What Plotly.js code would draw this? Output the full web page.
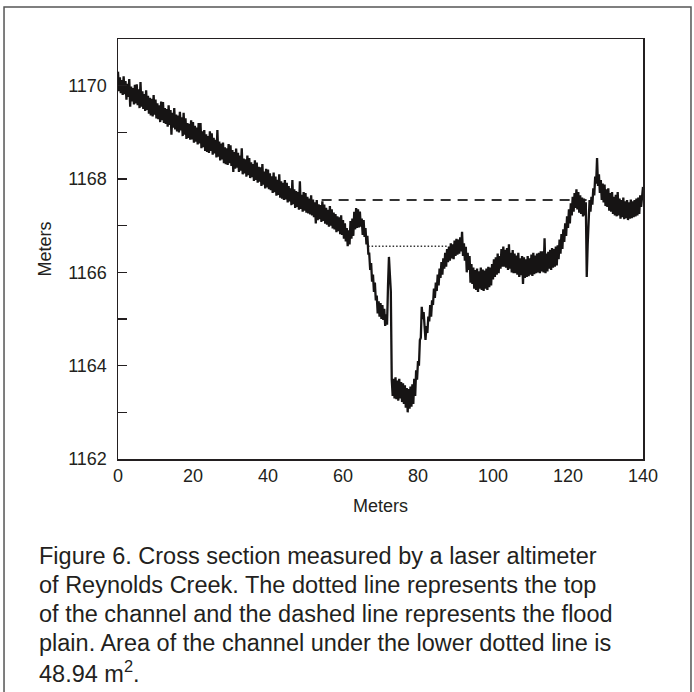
<!DOCTYPE html>
<html>
<head>
<meta charset="utf-8">
<script src="https://cdn.plot.ly/plotly-3.0.1.min.js"></script>
<style>html,body{margin:0;padding:0;background:#fff;}#chart{width:694px;height:692px;}</style>
</head>
<body>
<div id="chart"></div>
<script>
// Elevation read from the laser altimeter profile (m), one reading every 0.25 m from 0 to 140 m
const elevation = [
  1170.30,1169.88,1170.18,1169.84, 1170.12,1169.80,1170.20,1169.82, 1170.10,1169.70,1170.04,1169.76, 1170.14,1169.55,1169.98,1169.66,
  1169.95,1169.60,1170.02,1169.62, 1170.03,1169.58,1169.92,1169.52, 1170.08,1169.55,1169.88,1169.50, 1169.82,1169.46,1169.90,1169.48,
  1169.78,1169.40,1169.74,1169.36, 1169.72,1169.34,1169.80,1169.38, 1169.70,1169.30,1169.62,1169.28, 1169.58,1169.22,1169.66,1169.26,
  1169.65,1169.20,1169.52,1169.18, 1169.50,1169.12,1169.58,1169.16, 1169.48,1168.95,1169.42,1169.10, 1169.52,1169.06,1169.38,1169.02,
  1169.36,1169.00,1169.44,1169.04, 1169.32,1168.92,1169.42,1168.95, 1169.30,1168.86,1169.20,1168.88, 1169.18,1168.84,1169.26,1168.85,
  1169.22,1168.78,1169.14,1168.80, 1169.10,1168.74,1169.20,1168.76, 1169.20,1168.66,1169.02,1168.68, 1169.05,1168.60,1168.96,1168.58,
  1168.92,1168.56,1169.02,1168.60, 1168.98,1168.52,1168.88,1168.55, 1168.84,1168.46,1169.05,1168.48, 1168.80,1168.40,1168.76,1168.42,
  1168.78,1168.34,1168.68,1168.32, 1168.66,1168.30,1168.75,1168.34, 1168.72,1168.28,1168.62,1168.15, 1168.58,1168.22,1168.65,1168.24,
  1168.56,1168.15,1168.50,1168.18, 1168.66,1168.10,1168.44,1168.12, 1168.42,1168.05,1168.50,1168.08, 1168.45,1168.02,1168.36,1168.04,
  1168.32,1167.96,1168.40,1167.98, 1168.35,1167.92,1168.26,1167.94, 1168.25,1167.85,1168.32,1167.88, 1168.16,1167.80,1168.22,1167.82,
  1168.20,1167.78,1168.12,1167.76, 1168.06,1167.70,1168.14,1167.72, 1168.05,1167.64,1167.98,1167.66, 1168.10,1167.60,1167.95,1167.58,
  1167.92,1167.55,1167.98,1167.56, 1167.92,1167.50,1167.85,1167.52, 1167.80,1167.44,1167.98,1167.46, 1167.78,1167.38,1167.74,1167.40,
  1167.72,1167.34,1167.95,1167.36, 1167.66,1167.30,1167.72,1167.32, 1167.70,1167.28,1167.62,1167.26, 1167.58,1167.24,1167.65,1167.22,
  1167.56,1167.18,1167.50,1167.05, 1167.55,1167.12,1167.46,1167.14, 1167.44,1167.08,1167.52,1167.10, 1167.45,1167.04,1167.38,1167.02,
  1167.34,1166.98,1167.42,1167.00, 1167.35,1166.94,1167.28,1166.92, 1167.25,1166.86,1167.20,1166.88, 1167.18,1166.82,1167.22,1166.80,
  1167.12,1166.72,1167.05,1166.66, 1166.95,1166.56,1166.90,1166.60, 1167.10,1166.72,1167.15,1166.78, 1167.30,1166.92,1167.38,1166.95,
  1167.35,1166.96,1167.30,1166.98, 1167.15,1166.80,1167.12,1166.76, 1166.95,1166.60,1166.78,1166.40, 1166.40,1166.05,1166.20,1165.80,
  1165.95,1165.58,1165.78,1165.40, 1165.50,1165.12,1165.38,1165.05, 1165.34,1165.00,1165.30,1164.98, 1165.22,1164.85,1165.10,1164.88,
  1165.70,1166.33,1165.95,1165.60, 1163.70,1163.35,1163.72,1163.30, 1163.75,1163.28,1163.68,1163.25, 1163.72,1163.30,1163.65,1163.22,
  1163.62,1163.18,1163.58,1163.10, 1163.52,1163.00,1163.50,1163.08, 1163.55,1163.12,1163.60,1163.18, 1163.72,1163.35,1163.90,1163.70,
  1164.10,1164.00,1164.55,1164.60, 1165.26,1165.00,1165.15,1164.80, 1164.55,1164.85,1164.70,1165.05, 1164.95,1165.30,1165.05,1165.40,
  1165.30,1165.65,1165.45,1165.78, 1165.60,1165.95,1165.72,1166.08, 1165.88,1166.22,1165.95,1166.30, 1166.08,1166.42,1166.12,1166.50,
  1166.22,1166.55,1166.25,1166.62, 1166.30,1166.60,1166.28,1166.68, 1166.35,1166.72,1166.38,1166.70, 1166.40,1166.75,1166.45,1166.87,
  1166.35,1166.62,1166.25,1166.55, 1166.00,1166.42,1166.05,1166.35, 1165.78,1166.18,1165.75,1166.10, 1165.65,1166.05,1165.62,1166.08,
  1165.58,1166.02,1165.65,1166.10, 1165.62,1166.06,1165.60,1166.04, 1165.65,1166.08,1165.62,1166.12, 1165.68,1166.10,1165.72,1166.18,
  1165.85,1166.28,1165.90,1166.32, 1165.95,1166.40,1165.98,1166.35, 1166.08,1166.50,1166.12,1166.55, 1166.12,1166.48,1166.10,1166.52,
  1166.05,1166.60,1166.08,1166.42, 1166.00,1166.48,1165.98,1166.40, 1165.98,1166.36,1165.95,1166.42, 1165.90,1166.30,1165.94,1166.35,
  1165.75,1166.32,1165.88,1166.28, 1165.90,1166.35,1165.92,1166.30, 1165.95,1166.38,1165.92,1166.42, 1165.96,1166.36,1165.98,1166.40,
  1166.00,1166.42,1165.98,1166.45, 1166.02,1166.45,1166.00,1166.73, 1165.98,1166.40,1166.02,1166.44, 1166.08,1166.48,1166.05,1166.52,
  1166.10,1166.50,1166.12,1166.55, 1166.15,1166.58,1166.28,1166.70, 1166.40,1166.82,1166.50,1166.92, 1166.65,1167.05,1166.78,1167.20,
  1166.95,1167.35,1167.05,1167.48, 1167.22,1167.62,1167.30,1167.70, 1167.38,1167.78,1167.35,1167.72, 1167.28,1167.65,1167.25,1167.60,
  1167.20,1167.58,1167.22,1167.50, 1165.90,1166.60,1167.30,1167.55, 1167.30,1167.62,1167.45,1167.80, 1167.65,1168.05,1167.90,1168.45,
  1167.85,1168.10,1167.70,1167.98, 1167.55,1167.90,1167.50,1167.88, 1167.42,1167.78,1167.40,1167.80, 1167.32,1167.70,1167.30,1167.72,
  1167.25,1167.62,1167.22,1167.66, 1167.20,1167.72,1167.22,1167.58, 1167.15,1167.55,1167.18,1167.60, 1167.14,1167.52,1167.16,1167.55,
  1167.12,1167.50,1167.15,1167.56, 1167.16,1167.52,1167.18,1167.55, 1167.20,1167.58,1167.22,1167.60, 1167.25,1167.65,1167.40,1167.70,
  1167.83
];
// Distance along the section (m) for each reading
const distance = elevation.map((_, i) => i * 0.25);

// Flood plain (dashed) and channel top (dotted)
const floodX = [54.3, 126.0];
const floodY = [1167.55, 1167.55];
const channelX = [66.7, 88.0];
const channelY = [1166.56, 1166.56];

const xTicks = [0, 20, 40, 60, 80, 100, 120, 140];
const yTicks = [1162, 1164, 1166, 1168, 1170];
const yMinorTicks = [1163, 1165, 1167, 1169];

const captionLines = [
  "Figure 6. Cross section measured by a laser altimeter",
  "of Reynolds Creek. The dotted line represents the top",
  "of the channel and the dashed line represents the flood",
  "plain. Area of the channel under the lower dotted line is",
  "48.94 m<sup>2</sup>."
];

const ink = '#231f20';
const traces = [
  {x: floodX, y: floodY, mode: 'lines', line: {color: '#333', width: 2, dash: '10px,7px'}, hoverinfo: 'skip'},
  {x: channelX, y: channelY, mode: 'lines', line: {color: '#333', width: 1.5, dash: '1.5px,2px'}, hoverinfo: 'skip'},
  {x: distance, y: elevation, mode: 'lines', line: {color: '#161414', width: 2.3}}
];

// caption line centres in pixels -> paper coords (plot area spans y 39..459)
const capTop = 556, capPitch = 29;
const annotations = captionLines.map((t, i) => ({
  xref: 'paper', yref: 'paper', x: (37 - 118) / 525, y: (459 - (capTop + i * capPitch)) / 420,
  xanchor: 'left', yanchor: 'middle', align: 'left', showarrow: false, text: t,
  font: {size: 23.5, color: ink, family: 'Liberation Sans, Arial, sans-serif'}
}));

const layout = {
  width: 694, height: 692,
  margin: {l: 118, r: 51, t: 39, b: 233},
  paper_bgcolor: '#fff', plot_bgcolor: '#fff',
  showlegend: false,
  font: {family: 'Liberation Sans, Arial, sans-serif', color: ink, size: 18},
  xaxis: {
    range: [0, 140], tickvals: xTicks, ticks: '', showgrid: false, zeroline: false,
    showline: true, mirror: true, linecolor: ink, linewidth: 1.5,
    tickfont: {size: 18, color: ink},
    title: {text: 'Meters', font: {size: 18, color: ink}, standoff: 14}
  },
  yaxis: {
    range: [1162, 1171], tickvals: yTicks, ticks: 'inside', ticklen: 9, tickcolor: ink, tickwidth: 1.3,
    minor: {tickvals: yMinorTicks, ticks: 'inside', ticklen: 9, tickcolor: ink, tickwidth: 1.3},
    showgrid: false, zeroline: false, showline: true, mirror: true, linecolor: ink, linewidth: 1.5,
    tickfont: {size: 18, color: ink}, ticklabelstandoff: 6,
    title: {text: 'Meters', font: {size: 18, color: ink}, standoff: 12}
  },
  shapes: [{
    type: 'rect', xref: 'paper', yref: 'paper',
    x0: -0.2171, x1: 1.0914, y0: -0.574, y1: 1.0762,
    line: {color: '#555', width: 1.5}
  }],
  annotations: annotations
};

Plotly.newPlot('chart', traces, layout, {displayModeBar: false, staticPlot: true});
</script>
</body>
</html>
